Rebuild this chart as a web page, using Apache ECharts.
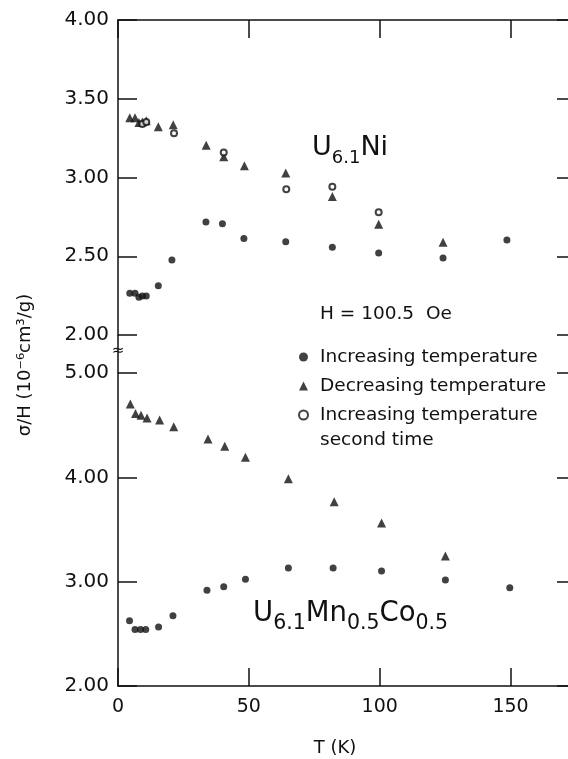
<!DOCTYPE html>
<html><head><meta charset="utf-8">
<script src="https://cdn.jsdelivr.net/npm/echarts@6/dist/echarts.min.js"></script>
<style>html,body{margin:0;padding:0;background:#fff}#c{width:568px;height:759px}</style>
</head><body><div id="c"></div>
<script>
// ---- axis settings ----
const xMin = 0, xMax = 175, xInterval = 50;
const topYMin = 2, topYMax = 4, topYInterval = 0.5;
const botYMin = 2, botYMax = 5, botYInterval = 1;

// ---- series names ----
const NAME_INC = 'Increasing temperature';
const NAME_DEC = 'Decreasing temperature';
const NAME_SEC = 'Increasing temperature second time';

// ---- U6.1Ni (upper panel) ----
const niIncT = [4.5, 6.5, 8.0, 9.3, 10.8, 15.4, 20.6, 33.6, 39.9, 48.1, 64.1, 81.9, 99.6, 124.2, 148.6];
const niIncV = [2.265, 2.265, 2.239, 2.248, 2.248, 2.313, 2.476, 2.717, 2.707, 2.612, 2.592, 2.557, 2.521, 2.489, 2.603];
const niDecT = [4.5, 6.5, 8.0, 9.3, 10.8, 15.4, 21.1, 33.7, 40.4, 48.3, 64.1, 81.9, 99.6, 124.2];
const niDecV = [3.380, 3.380, 3.350, 3.352, 3.360, 3.323, 3.335, 3.204, 3.132, 3.075, 3.029, 2.880, 2.703, 2.589];
const niSecT = [9.3, 10.8, 21.4, 40.4, 64.3, 81.9, 99.6];
const niSecV = [3.340, 3.352, 3.281, 3.158, 2.925, 2.942, 2.779];

// ---- U6.1Mn0.5Co0.5 (lower panel) ----
const mcIncT = [4.4, 6.5, 8.6, 10.6, 15.5, 21.0, 34.0, 40.4, 48.7, 65.1, 82.2, 100.7, 125.1, 149.7];
const mcIncV = [2.625, 2.542, 2.542, 2.542, 2.565, 2.673, 2.917, 2.951, 3.022, 3.130, 3.130, 3.102, 3.015, 2.941];
const mcDecT = [4.7, 6.7, 8.8, 11.1, 15.9, 21.3, 34.4, 40.8, 48.7, 65.1, 82.6, 100.7, 125.1];
const mcDecV = [4.703, 4.613, 4.594, 4.569, 4.549, 4.485, 4.367, 4.297, 4.192, 3.987, 3.766, 3.562, 3.245];

const pairs = (xs, ys) => xs.map((x, i) => [x, ys[i]]);
const FONT = 'DejaVu Sans';
const INK = '#111';

const axLine = { show: true, lineStyle: { color: INK, width: 1.5 } };
const axTick = (len) => ({ show: true, inside: true, length: len, lineStyle: { color: INK, width: 1.5 } });

function xAxisFor(gridIndex, position, showLabel) {
  return {
    type: 'value', gridIndex, position, min: xMin, max: xMax, interval: xInterval,
    axisLine: axLine, axisTick: axTick(18), splitLine: { show: false },
    axisLabel: { show: showLabel, showMaxLabel: false, color: INK, fontFamily: FONT, fontSize: 19, margin: 12 }
  };
}
function yAxisFor(gridIndex, position, min, max, interval, showLabel) {
  return {
    type: 'value', gridIndex, position, min, max, interval,
    axisLine: axLine, axisTick: axTick(19), splitLine: { show: false },
    axisLabel: { show: showLabel, color: INK, fontFamily: FONT, fontSize: 20, margin: 9,
      formatter: v => v.toFixed(2) }
  };
}

const chart = echarts.init(document.getElementById('c'), null, { renderer: 'canvas' });
chart.setOption({
  backgroundColor: '#fff',
  animation: false,
  grid: [
    { left: 118, width: 458, top: 20, height: 315, outerBoundsMode: 'none', containLabel: false },
    { left: 118, width: 458, top: 373, height: 313, outerBoundsMode: 'none', containLabel: false }
  ],
  xAxis: [ xAxisFor(0, 'top', false), xAxisFor(1, 'bottom', true) ],
  yAxis: [
    yAxisFor(0, 'left', topYMin, topYMax, topYInterval, true),
    yAxisFor(0, 'right', topYMin, topYMax, topYInterval, false),
    yAxisFor(1, 'left', botYMin, botYMax, botYInterval, true),
    yAxisFor(1, 'right', botYMin, botYMax, botYInterval, false)
  ],
  legend: {
    data: [NAME_INC, NAME_DEC, NAME_SEC],
    orient: 'vertical', left: 298, top: 347, padding: 0,
    itemWidth: 9, itemHeight: 9, itemGap: 9, selectedMode: false,
    formatter: n => (n === NAME_SEC ? NAME_INC : n),
    textStyle: { color: INK, fontFamily: FONT, fontSize: 18.5, lineHeight: 20, padding: [0, 0, 0, 7] }
  },
  series: [
    { name: NAME_INC, type: 'scatter', xAxisIndex: 0, yAxisIndex: 0, data: pairs(niIncT, niIncV),
      symbol: 'circle', symbolSize: 7, itemStyle: { color: INK } },
    { name: NAME_DEC, type: 'scatter', xAxisIndex: 0, yAxisIndex: 0, data: pairs(niDecT, niDecV),
      symbol: 'triangle', symbolSize: 9, itemStyle: { color: INK } },
    { name: NAME_SEC, type: 'scatter', xAxisIndex: 0, yAxisIndex: 0, data: pairs(niSecT, niSecV),
      symbol: 'emptyCircle', symbolSize: 6, itemStyle: { color: INK, borderColor: INK, borderWidth: 1.5 } },
    { name: NAME_INC, type: 'scatter', xAxisIndex: 1, yAxisIndex: 2, data: pairs(mcIncT, mcIncV),
      symbol: 'circle', symbolSize: 7, itemStyle: { color: INK } },
    { name: NAME_DEC, type: 'scatter', xAxisIndex: 1, yAxisIndex: 2, data: pairs(mcDecT, mcDecV),
      symbol: 'triangle', symbolSize: 9, itemStyle: { color: INK } }
  ],
  graphic: [
    { type: 'line', shape: { x1: 118, y1: 335, x2: 118, y2: 373 }, style: { stroke: INK, lineWidth: 1.5 } },
    { type: 'text', x: 118, y: 351, style: { text: '≈', fontSize: 15, fontFamily: FONT, fill: INK, align: 'center', verticalAlign: 'middle' } },
    { type: 'text', x: 25, y: 365, rotation: Math.PI / 2,
      style: { text: 'σ/H (10⁻⁶cm³/g)', fontSize: 18, fontFamily: FONT, fill: INK, align: 'center', verticalAlign: 'middle' } },
    { type: 'text', x: 335, y: 748,
      style: { text: 'T (K)', fontSize: 18, fontFamily: FONT, fill: INK, align: 'center', verticalAlign: 'middle' } },
    { type: 'text', x: 320, y: 314,
      style: { text: 'H = 100.5  Oe', fontSize: 18.5, fontFamily: FONT, fill: INK, align: 'left', verticalAlign: 'middle' } },
    { type: 'text', x: 320, y: 440,
      style: { text: 'second time', fontSize: 18.5, fontFamily: FONT, fill: INK, align: 'left', verticalAlign: 'middle' } },
    { type: 'text', x: 312, y: 148,
      style: { text: '{b|U}{s|6.1}{b|Ni}', fill: INK, align: 'left', verticalAlign: 'middle',
        rich: { b: { fontSize: 27, fontFamily: FONT, fill: INK },
                s: { fontSize: 18, fontFamily: FONT, fill: INK, padding: [20, 0, 0, 0] } } } },
    { type: 'text', x: 253, y: 614,
      style: { text: '{b|U}{s|6.1}{b|Mn}{s|0.5}{b|Co}{s|0.5}', fill: INK, align: 'left', verticalAlign: 'middle',
        rich: { b: { fontSize: 27.5, fontFamily: FONT, fill: INK },
                s: { fontSize: 20.5, fontFamily: FONT, fill: INK, padding: [20, 0, 0, 0] } } } }
  ]
});
</script></body></html>
